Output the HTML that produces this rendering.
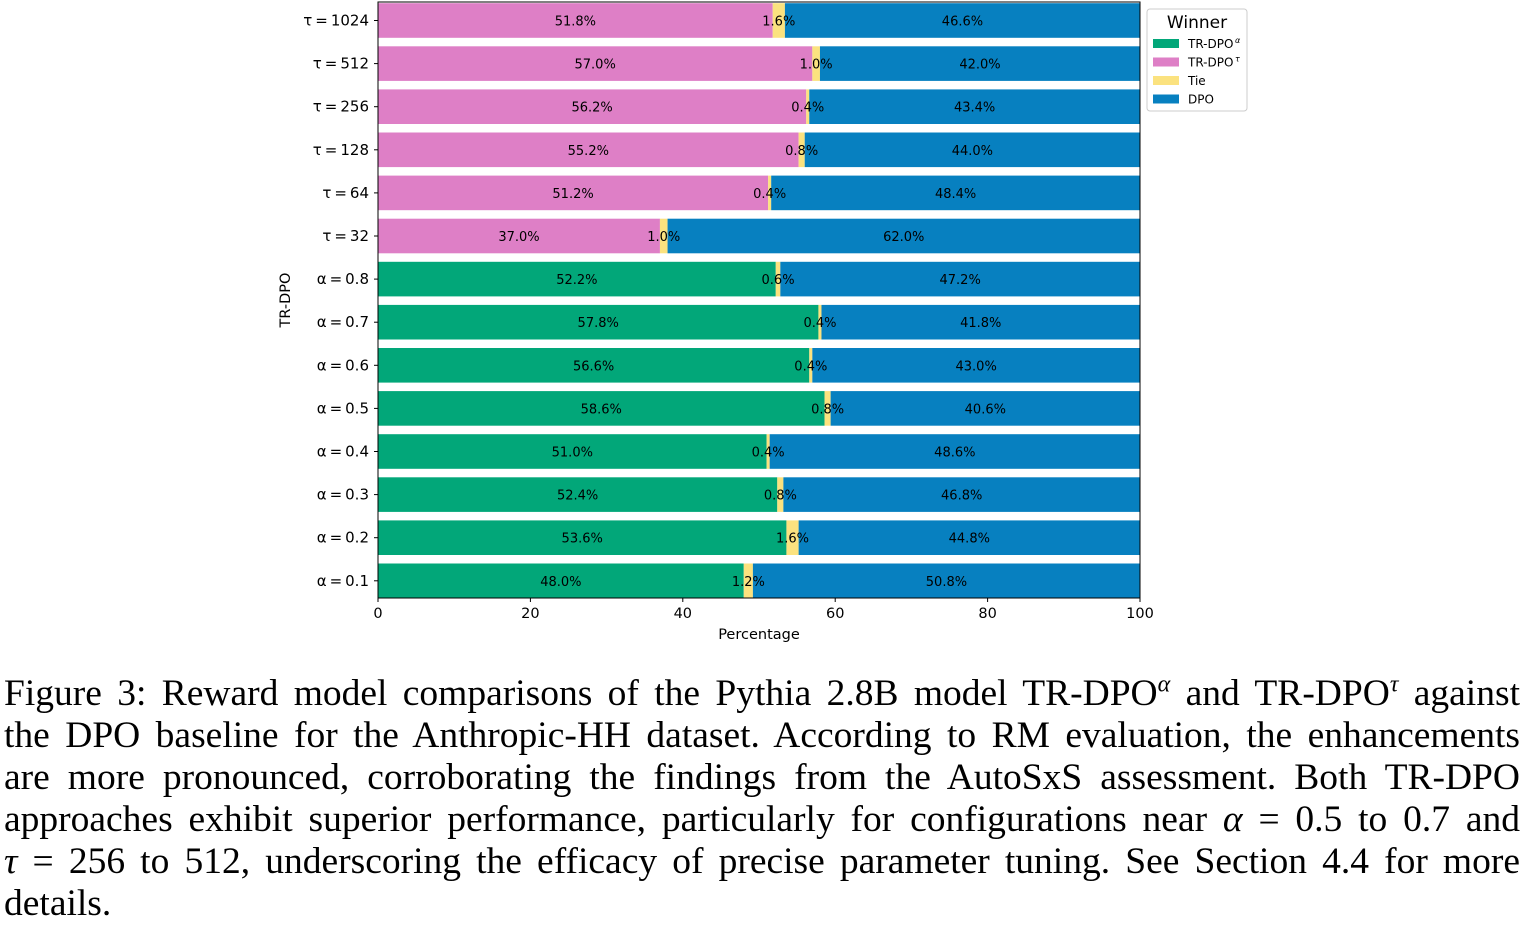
<!DOCTYPE html>
<html><head><meta charset="utf-8"><style>
body{margin:0;background:#fff;width:1524px;height:923px;overflow:hidden;position:relative}
#cap{position:absolute;left:4px;top:673px;width:1516px;font-family:"Liberation Serif",serif;font-size:37.5px;color:#000}
#cap div{text-align:justify;text-align-last:justify;height:42px;line-height:42px;white-space:nowrap}
#cap div.last{text-align-last:left}
i{font-style:italic}
</style></head><body>
<svg id="chart" width="1524" height="660" style="position:absolute;left:0;top:0" font-family="DejaVu Sans, sans-serif"></svg>
<div id="cap">
<div>Figure 3: Reward model comparisons of the Pythia 2.8B model TR-DPO<sup style="font-size:24px;line-height:0"><i>α</i></sup> and TR-DPO<sup style="font-size:24px;line-height:0"><i>τ</i></sup> against</div>
<div>the DPO baseline for the Anthropic-HH dataset. According to RM evaluation, the enhancements</div>
<div>are more pronounced, corroborating the findings from the AutoSxS assessment. Both TR-DPO</div>
<div>approaches exhibit superior performance, particularly for configurations near <i>α</i> = 0.5 to 0.7 and</div>
<div><i>τ</i> = 256 to 512, underscoring the efficacy of precise parameter tuning. See Section 4.4 for more</div>
<div class="last">details.</div>
</div>
<script>
const categories=["τ = 1024","τ = 512","τ = 256","τ = 128","τ = 64","τ = 32","α = 0.8","α = 0.7","α = 0.6","α = 0.5","α = 0.4","α = 0.3","α = 0.2","α = 0.1"];
const trdpo=[51.8,57.0,56.2,55.2,51.2,37.0,52.2,57.8,56.6,58.6,51.0,52.4,53.6,48.0];
const tie=[1.6,1.0,0.4,0.8,0.4,1.0,0.6,0.4,0.4,0.8,0.4,0.8,1.6,1.2];
const dpo=[46.6,42.0,43.4,44.0,48.4,62.0,47.2,41.8,43.0,40.6,48.6,46.8,44.8,50.8];
const xticks=[0,20,40,60,80,100];
const NS="http://www.w3.org/2000/svg";
const svg=document.getElementById('chart');
const X0=378,X1=1140,Y0=2,Y1=598;
const step=43.1;
const x=v=>X0+(X1-X0)*v/100;
const yc=i=>20.5+step*i;
const bh=34.6;
function el(t,a,txt){const e=document.createElementNS(NS,t);for(const k in a)e.setAttribute(k,a[k]);if(txt!==undefined)e.textContent=txt;svg.appendChild(e);return e;}
categories.forEach((c,i)=>{
  const isTau=c.startsWith("τ");
  const col=isTau?"#de7fc6":"#02a779";
  const y=yc(i)-bh/2;
  let r=el('rect',{x:x(0),y:y,width:x(trdpo[i])-x(0),height:bh,fill:col});
  
  
  r=el('rect',{x:x(trdpo[i]),y:y,width:x(trdpo[i]+tie[i])-x(trdpo[i]),height:bh,fill:"#fbe27f"});
  
  
  r=el('rect',{x:x(trdpo[i]+tie[i]),y:y,width:x(trdpo[i]+tie[i]+dpo[i])-x(trdpo[i]+tie[i]),height:bh,fill:"#0780c0"});
  
  
  const ty=yc(i)+5;
  let t=el('text',{x:x(trdpo[i]/2),y:ty,'font-size':13,'text-anchor':'middle'},trdpo[i].toFixed(1)+"%");
  
  
  t=el('text',{x:x(trdpo[i]+tie[i]/2),y:ty,'font-size':13,'text-anchor':'middle'},tie[i].toFixed(1)+"%");
  
  
  t=el('text',{x:x(trdpo[i]+tie[i]+dpo[i]/2),y:ty,'font-size':13,'text-anchor':'middle'},dpo[i].toFixed(1)+"%");
  
  
  el('line',{x1:X0-4,x2:X0,y1:yc(i),y2:yc(i),stroke:"#000"});
  t=el('text',{x:X0-9,y:yc(i)+5,'font-size':15,'text-anchor':'end'},c.replace(" = ","\u2009=\u2009"));
  
  
});
el('rect',{x:X0,y:Y0,width:X1-X0,height:Y1-Y0,fill:"none",stroke:"#000",'stroke-width':1});
xticks.forEach(v=>{
  el('line',{x1:x(v),x2:x(v),y1:Y1,y2:Y1+4,stroke:"#000"});
  const t=el('text',{x:x(v),y:Y1+20,'font-size':14.5,'text-anchor':'middle'},v);
  
  
});
let t=el('text',{x:(X0+X1)/2,y:639,'font-size':14.5,'text-anchor':'middle'},"Percentage");


t=el('text',{x:0,y:0,'font-size':14.5,'text-anchor':'middle',transform:`translate(290,300) rotate(-90)`},"TR-DPO");


const lg=el('rect',{x:1147,y:9,width:100,height:102,rx:3,fill:"#fff",stroke:"#ccc"});


t=el('text',{x:1197,y:28,'font-size':17,'text-anchor':'middle'},"Winner");


const lnames=["TR-DPO","TR-DPO","Tie","DPO"],lcols=["#02a779","#de7fc6","#fbe27f","#0780c0"];
lnames.forEach((n,k)=>{
  const yy=44+k*18.5;
  const r=el('rect',{x:1153,y:yy-5,width:26,height:9,fill:lcols[k]});
  
  
  const tt=el('text',{x:1188,y:yy+4,'font-size':12},n);
  
  
  if(k<2){el('text',{x:1235,y:yy-1,'font-size':8,'font-style':'italic'},k==0?"α":"τ");}
});
</script>
</body></html>
